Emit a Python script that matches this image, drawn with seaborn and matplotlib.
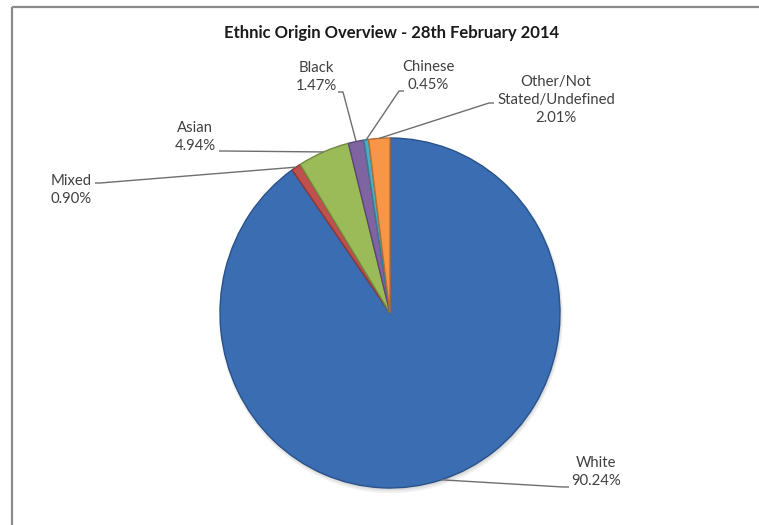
import numpy as np
import matplotlib
matplotlib.use("Agg")
import matplotlib.pyplot as plt
from matplotlib.patches import Ellipse
import seaborn as sns

# Ethnic origin breakdown (percent of total)
categories = ["White", "Mixed", "Asian", "Black", "Chinese", "Other/Not Stated/Undefined"]
values = [90.24, 0.90, 4.94, 1.47, 0.45, 2.01]
label_lines = [
    "White\n90.24%",
    "Mixed\n0.90%",
    "Asian\n4.94%",
    "Black\n1.47%",
    "Chinese\n0.45%",
    "Other/Not\nStated/Undefined\n2.01%",
]
fill_colors = ["#3b6db3", "#c0504d", "#9bbb59", "#8064a2", "#4bacc6", "#f79646"]
edge_colors = ["#2a528a", "#8c3836", "#71893f", "#5c4776", "#347d90", "#b86d30"]
title = "Ethnic Origin Overview - 28th February 2014"

sns.set_theme(style="white")
plt.rcParams["font.family"] = ["Lato", "DejaVu Sans"]

W, H = 759, 525
M = 0.02  # axes overhang beyond the canvas on every side
fig = plt.figure(figsize=(W / 100, H / 100), dpi=100)
fig.patch.set_facecolor("white")
ax = fig.add_axes([-M, -M, 1 + 2 * M, 1 + 2 * M])

# pixel-based layout; the pie is a touch taller than wide
SY = 175 / 170


def px(x, y):
    return x, (H - y) / SY


cx, cy = px(390, 313)
R = 170

# soft drop shadow under the pie
for k, a in enumerate([0.05, 0.05, 0.06]):
    ax.add_patch(Ellipse((cx + 1, cy - 2.5 + k * 0.6), 2 * R + 4 - 2 * k, 2 * R + 5 - 2 * k,
                         facecolor="black", alpha=a, edgecolor="none", zorder=0))

palette = sns.color_palette(fill_colors)
wedges, _ = ax.pie(
    values,
    colors=palette,
    startangle=90,
    counterclock=False,
    radius=R,
    center=(cx, cy),
    wedgeprops=dict(linewidth=1.0, zorder=2),
)
for w, ec in zip(wedges, edge_colors):
    w.set_edgecolor(ec)
ax.set_aspect("auto")
ax.set_xlim(-M * W, (1 + M) * W)
ax.set_ylim(-M * H / SY, (1 + M) * H / SY)
ax.axis("off")

# chart-area frame: top and left edges
fx0, fy0 = px(11.5, 6.5)
_, fyb = px(0, H + 5)
ax.plot([fx0, W + 5], [fy0, fy0], color="#8a8a8a", lw=1.6, zorder=10,
        solid_capstyle="butt")
ax.plot([fx0, fx0], [fyb, fy0], color="#8a8a8a", lw=1.6, zorder=10,
        solid_capstyle="butt")

text_color = "#404040"
line_color = "#6e6e6e"

# label centres and leader-line starts (pixels)
label_pos = [(596, 472), (71, 190), (195, 137), (316, 77), (428, 76), (556, 100)]
leader_start = [(569, 487), (95, 183), (219, 151), (338, 92), (404, 91), (494, 103)]
leader_step = [-6, 5, 5, 5, -5, -5]

total = sum(values)
cum = 0.0
for i, v in enumerate(values):
    mid = cum + v / 2
    cum += v
    ang = np.deg2rad(90 - 360 * mid / total)
    ex, ey = cx + R * np.cos(ang), cy + R * np.sin(ang)
    sx, sy = px(*leader_start[i])
    ax.plot([sx, sx + leader_step[i], ex], [sy, sy, ey],
            color=line_color, lw=1.0, zorder=5, solid_capstyle="butt")
    lx, ly = px(*label_pos[i])
    ax.text(lx, ly, label_lines[i], ha="center", va="center",
            fontsize=10.7, color=text_color, linespacing=1.33)

tx, ty = px(392, 33)
ax.text(tx, ty, title, ha="center", va="center", fontsize=12,
        fontweight="bold", color="#1a1a1a")

fig.savefig("out.png", dpi=100, facecolor="white")
